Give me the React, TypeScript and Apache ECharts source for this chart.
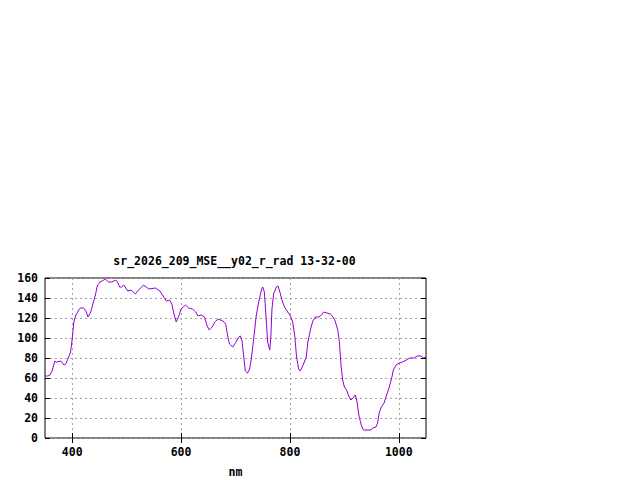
import React, { useEffect, useRef } from "react";
import * as echarts from "echarts";

const titleText = "sr_2026_209_MSE__y02_r_rad 13-32-00";
const xName = "nm";
const xTicks = [400, 600, 800, 1000];

const wavelengths = [
  350, 355, 359, 363, 368, 371, 379, 385, 388, 392, 397, 400, 403, 406, 412, 415, 421, 426, 429, 434,
  439, 443, 446, 451, 455, 461, 467, 473, 480, 484, 487, 491, 495, 502, 508, 516, 522, 531, 541, 553,
  561, 567, 573, 579, 583, 587, 591, 596, 600, 608, 614, 621, 627, 631, 637, 643, 648, 652, 657, 662,
  668, 677, 682, 686, 689, 695, 701, 706, 709, 712, 715, 718, 722, 726, 729, 734, 738, 743, 748, 750,
  753, 756, 759, 761, 763, 765, 767, 770, 775, 778, 781, 786, 790, 796, 801, 805, 809, 812, 816, 819,
  825, 830, 833, 838, 842, 847, 853, 858, 862, 868, 874, 878, 883, 888, 891, 894, 897, 900, 904, 908,
  912, 916, 920, 923, 927, 931, 935, 949, 952, 958, 961, 964, 968, 973, 977, 982, 987, 990, 995, 1001,
  1007, 1014, 1020, 1028, 1034, 1041, 1045, 1050,
];

const radiance = [
  62, 62, 63, 67, 77, 76, 77, 73, 74, 79, 86, 99, 116, 122, 128, 130, 130, 126, 121, 126,
  136, 144, 152, 156, 157, 159, 156, 156, 158, 155, 151, 151, 153, 147, 148, 144, 148, 153, 149, 150,
  147, 142, 137, 138, 134, 124, 116, 122, 129, 133, 130, 129, 126, 122, 123, 121, 112, 108, 111, 116,
  119, 117, 114, 101, 94, 91, 96, 101, 102, 97, 82, 67, 65, 69, 79, 102, 122, 137, 149, 151,
  146, 122, 96, 92, 88, 102, 129, 144, 151, 152, 147, 137, 131, 126, 122, 116, 102, 82, 69, 67,
  74, 81, 96, 109, 117, 121, 121, 123, 126, 125, 124, 122, 117, 108, 95, 72, 58, 51, 48, 42,
  38, 40, 43, 37, 22, 13, 8, 8, 10, 11, 15, 25, 31, 35, 42, 50, 60, 68, 73, 75,
  76, 78, 80, 80, 82, 82, 80, 81,
];

const FONT = "DejaVu Sans Mono";

export default function App() {
  const ref = useRef<HTMLDivElement>(null);
  useEffect(() => {
    if (!ref.current) return;
    const chart = echarts.init(ref.current, undefined, { renderer: "svg" });
    const data = wavelengths.map((w, i) => [w, radiance[i]]);
    const labelStyle = { fontFamily: FONT, fontWeight: "bold" as const, fontSize: 11.5, color: "#000" };
    const splitLine = { show: true, lineStyle: { color: "#a0a0a0", type: [2, 3] as any, width: 1 } };
    const tick = { show: true, inside: true, length: 5, lineStyle: { color: "#000", width: 1 } };
    const fmt = (v: number) => String(v);
    chart.setOption({
      animation: false,
      backgroundColor: "#fff",
      title: {
        text: titleText,
        left: 229.5,
        top: 250,
        textAlign: "center",
        textStyle: { ...labelStyle },
      },
      grid: {
        left: 45,
        right: 214,
        top: 278,
        bottom: 42,
        show: true,
        borderColor: "#000",
        borderWidth: 1,
        backgroundColor: "transparent",
      },
      xAxis: [
        {
          type: "value",
          min: 350,
          max: 1050,
          splitNumber: 3,
          position: "bottom",
          name: xName,
          nameLocation: "middle",
          nameGap: 28,
          nameTextStyle: { ...labelStyle },
          axisLine: { show: false },
          axisTick: { ...tick, customValues: xTicks },
          axisLabel: { ...labelStyle, margin: 8, customValues: xTicks, formatter: fmt },
          splitLine,
        },
        {
          type: "value",
          min: 350,
          max: 1050,
          splitNumber: 3,
          position: "top",
          axisLine: { show: false },
          axisTick: { ...tick, customValues: xTicks },
          axisLabel: { show: false },
          splitLine: { show: false },
        },
      ],
      yAxis: [
        {
          type: "value",
          min: 0,
          max: 160,
          interval: 20,
          position: "left",
          axisLine: { show: false },
          axisTick: tick,
          axisLabel: { ...labelStyle, margin: 7, formatter: fmt },
          splitLine,
        },
        {
          type: "value",
          min: 0,
          max: 160,
          interval: 20,
          position: "right",
          axisLine: { show: false },
          axisTick: tick,
          axisLabel: { show: false },
          splitLine: { show: false },
        },
      ],
      series: [
        {
          type: "line",
          data,
          xAxisIndex: 0,
          yAxisIndex: 0,
          showSymbol: false,
          symbol: "none",
          lineStyle: { color: "#9400d3", width: 1 },
        },
      ],
    });
    return () => chart.dispose();
  }, []);
  return <div ref={ref} style={{ width: 640, height: 480, position: "absolute", left: 0, top: 0 }} />;
}
